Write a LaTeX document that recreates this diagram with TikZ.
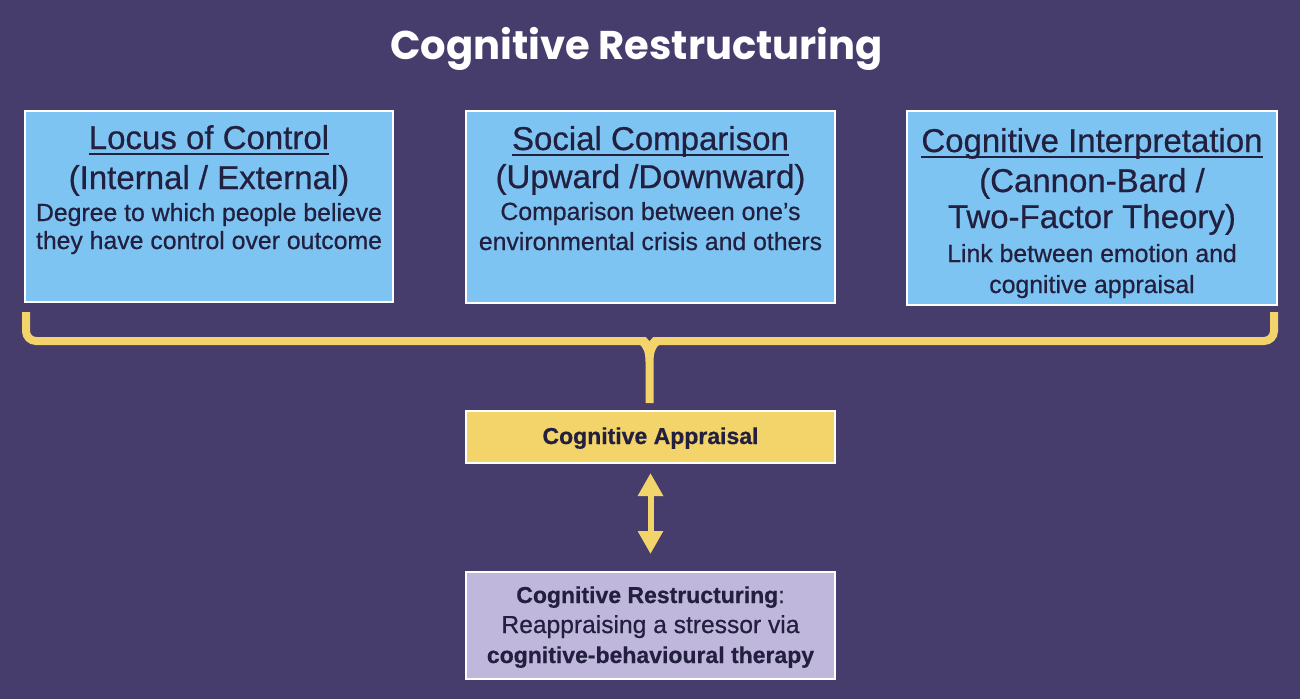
\documentclass[tikz,border=0pt]{standalone}
\usepackage{fontspec}
\setmainfont{Liberation Sans}[FakeBold=0.6]
\newfontfamily\titlefont{Poppins}
\usetikzlibrary{arrows.meta}
\definecolor{bgpurple}{HTML}{463D6D}
\definecolor{boxblue}{HTML}{7EC4F2}
\definecolor{boxyellow}{HTML}{F2D46B}
\definecolor{boxlav}{HTML}{BFB8DC}
\definecolor{txtdark}{HTML}{231F3F}
\tikzset{
  box/.style={draw=white, line width=2pt, inner sep=0pt, outer sep=0pt},
  bluebox/.style={box, fill=boxblue},
  head/.style={anchor=base, inner sep=0pt, text=txtdark, font=\fontsize{33}{33}\selectfont},
  desc/.style={anchor=base, inner sep=0pt, text=txtdark, font=\fontsize{24.8}{24.8}\selectfont},
  small/.style={anchor=base, inner sep=0pt, text=txtdark, font=\fontsize{23}{23}\selectfont},
  uline/.style={draw=txtdark, line width=2pt},
  brace/.style={draw=boxyellow, line width=8pt, rounded corners=10pt},
  dblarrow/.style={draw=boxyellow, line width=6pt, {Triangle[length=23pt,width=24pt]}-{Triangle[length=23pt,width=24pt]}}
}
\begin{document}
\begin{tikzpicture}[x=1pt,y=-1pt]
\fill[bgpurple] (0,0) rectangle (1300,699);
\useasboundingbox (0,0) rectangle (1300,699);

% title
\node[anchor=base, inner sep=0pt, text=white] (title) at (636.5,59)
  {\resizebox{493pt}{!}{\titlefont\bfseries\fontsize{44}{44}\selectfont Cognitive Restructuring}};

% boxes
\node[bluebox, minimum width=368pt, minimum height=191pt] (b1) at (209,206.5) {};
\node[bluebox, minimum width=369pt, minimum height=192pt] (b2) at (650.5,207) {};
\node[bluebox, minimum width=370pt, minimum height=194pt] (b3) at (1092,208) {};
\node[box, fill=boxyellow, minimum width=369pt, minimum height=52pt] (appr) at (650.5,437) {};
\node[box, fill=boxlav, minimum width=369pt, minimum height=107pt] (restr) at (650.5,625.5) {};

% box 1 text
\node[head] (b1h) at (209,149) {Locus of Control};
\draw[uline] ([yshift=-5pt]b1h.base west) -- ([yshift=-5pt]b1h.base east);
\node[head] (b1s) at (209,189) {(Internal / External)};
\node[desc] (b1d1) at (209,221) {Degree to which people believe};
\node[desc] (b1d2) at (209,249) {they have control over outcome};

% box 2 text
\node[head] (b2h) at (650.5,150) {Social Comparison};
\draw[uline] ([yshift=-5pt]b2h.base west) -- ([yshift=-5pt]b2h.base east);
\node[head] (b2s) at (650.5,188) {(Upward /Downward)};
\node[desc] (b2d1) at (650.5,220) {Comparison between one’s};
\node[desc] (b2d2) at (650.5,250) {environmental crisis and others};

% box 3 text
\node[head] (b3h) at (1092,152) {Cognitive Interpretation};
\draw[uline] ([yshift=-5pt]b3h.base west) -- ([yshift=-5pt]b3h.base east);
\node[head] (b3s1) at (1092,192) {(Cannon-Bard /};
\node[head] (b3s2) at (1092,228) {Two-Factor Theory)};
\node[desc] (b3d1) at (1092,262) {Link between emotion and};
\node[desc] (b3d2) at (1092,293) {cognitive appraisal};

% appraisal text
\node[small, font=\fontsize{23}{23}\selectfont\bfseries] (apprt) at (650.5,444) {Cognitive Appraisal};

% restructuring text
\node[small] (r1) at (650.5,603) {\textbf{Cognitive Restructuring}:};
\node[small, font=\fontsize{24.6}{24.6}\selectfont] (r2) at (650.5,633) {Reappraising a stressor via};
\node[small] (r3) at (650.5,663) {\textbf{cognitive-behavioural therapy}};

% brace
\coordinate (bl) at (26,312);
\coordinate (br) at (1274,312);
\draw[brace] (bl) -- (26,341) -- (1274,341) -- (br);
\coordinate (stemtop) at (649.5,345);
\fill[boxyellow] (645.5,403) -- (645.5,362) .. controls (645.5,352) and (643,347) .. (640,345)
  -- (659,345) .. controls (656,347) and (653.5,352) .. (653.5,362) -- (653.5,403) -- cycle;
\fill[bgpurple] (645.5,336.5) -- (649.5,341) -- (653.5,336.5) -- cycle;

% double arrow
\draw[dblarrow] ([yshift=-10pt]appr.south) -- ([yshift=18pt]restr.north);
\end{tikzpicture}
\end{document}
